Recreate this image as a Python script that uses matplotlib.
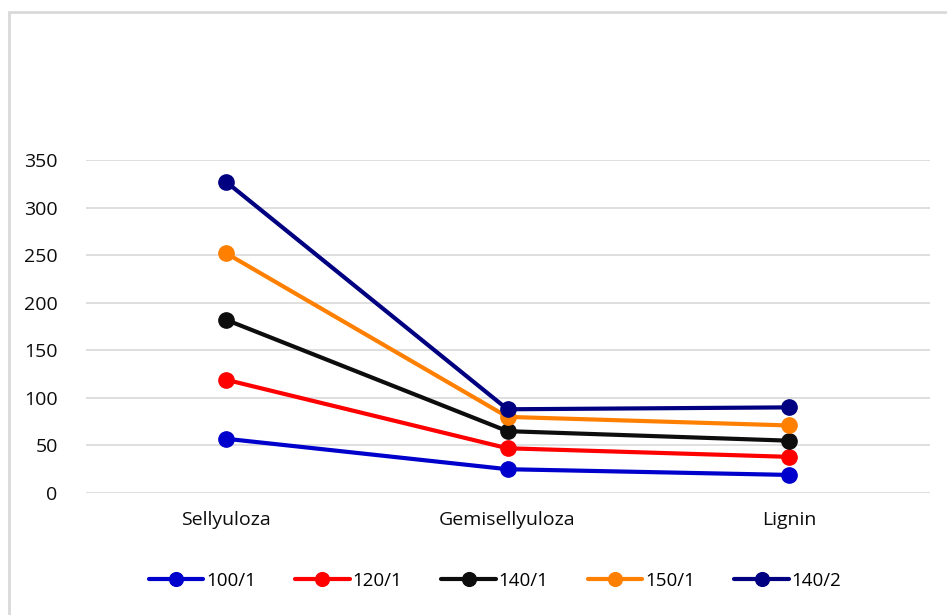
import matplotlib
matplotlib.use("Agg")
import matplotlib.pyplot as plt
from matplotlib.patches import Rectangle

categories = ["Sellyuloza", "Gemisellyuloza", "Lignin"]
series_names = ["100/1", "120/1", "140/1", "150/1", "140/2"]
s100_1 = [57, 25, 19]
s120_1 = [119, 47, 38]
s140_1 = [182, 65, 55]
s150_1 = [252, 80, 71]
s140_2 = [327, 88, 90]
series_values = [s100_1, s120_1, s140_1, s150_1, s140_2]
colors = ["#0000CC", "#FF0000", "#0D0D0D", "#FF8000", "#000080"]
yticks = [0, 50, 100, 150, 200, 250, 300, 350]

plt.rcParams['font.family'] = ['Open Sans', 'DejaVu Sans']

W, H = 947, 615
fig = plt.figure(figsize=(W / 100, H / 100), dpi=100)
fig.patch.set_facecolor("white")

# outer chart frame (cropped on right/bottom)
fig.patches.append(Rectangle((9 / W, -0.05), 1.1, (H - 12) / H + 0.05,
                             transform=fig.transFigure, fill=False,
                             edgecolor="#D9D9D9", linewidth=2, zorder=0))

ax = fig.add_axes([85.5 / W, 122 / H, (929.5 - 85.5) / W, (493 - 160) / H])
x = list(range(len(categories)))
for name, vals, c in zip(series_names, series_values, colors):
    ax.plot(x, vals, color=c, linewidth=3, marker="o", markersize=11,
            label=name, solid_capstyle="round")

ax.set_xlim(-0.5, len(categories) - 0.5)
ax.set_ylim(0, 350)
ax.set_yticks(yticks)
ax.set_xticks(x)
ax.set_xticklabels(categories)
ax.grid(axis="y", color="#D9D9D9", linewidth=1.2)
ax.set_axisbelow(True)
for s in ax.spines.values():
    s.set_visible(False)
ax.tick_params(axis="both", length=0, labelsize=14, colors="#0D0D0D")
ax.tick_params(axis="y", pad=20)
ax.tick_params(axis="x", pad=13)

leg = fig.legend(loc="center", bbox_to_anchor=(495 / W, 1 - 581 / H), ncol=5,
                 frameon=False, fontsize=13.5, handlelength=2.9,
                 columnspacing=2.1, handletextpad=0.15, markerscale=0.9)

fig.savefig("out.png", dpi=100, facecolor="white")
